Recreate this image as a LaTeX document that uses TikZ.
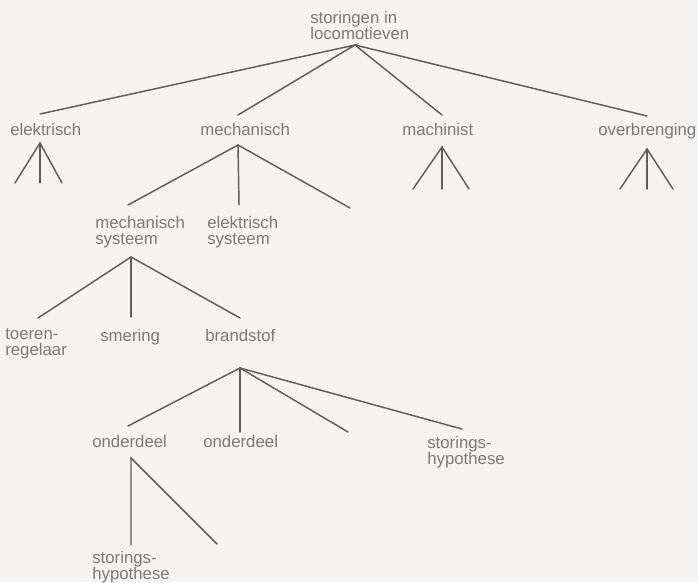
\documentclass[tikz,border=0pt]{standalone}
\usepackage{fontspec}
\setmainfont{Liberation Sans}
\definecolor{paper}{HTML}{F5F4F1}
\definecolor{ink}{HTML}{7A7A7A}
\definecolor{wire}{HTML}{5E5E5E}
\begin{document}
\begin{tikzpicture}[x=0.75pt,y=-0.75pt,
  lbl/.style={anchor=base west,inner sep=0pt,text=ink,font=\fontsize{12.6}{12}\selectfont},
  lbl2/.style={lbl,align=left,anchor=north west},
  edge/.style={draw=wire,line width=1.1pt,line cap=round}]
\fill[paper] (0,0) rectangle (698,582);
\useasboundingbox (0,0) rectangle (698,582);

% labels
\node[lbl2] (root) at (310,11) {storingen in\\locomotieven};
\node[lbl] (elek) at (10,135) {elektrisch};
\node[lbl] (mech) at (200,135) {mechanisch};
\node[lbl] (mach) at (402,135) {machinist};
\node[lbl] (over) at (598,135) {overbrenging};
\node[lbl2] (msys) at (95,216) {mechanisch\\systeem};
\node[lbl2] (esys) at (207,216) {elektrisch\\systeem};
\node[lbl2] (toer) at (5,328) {toeren-\\regelaar};
\node[lbl] (smer) at (100,341) {smering};
\node[lbl] (bran) at (205,341) {brandstof};
\node[lbl] (ondA) at (92,447) {onderdeel};
\node[lbl] (ondB) at (203,447) {onderdeel};
\node[lbl2] (hypA) at (427,436) {storings-\\hypothese};
\node[lbl2] (hypB) at (92,551) {storings-\\hypothese};

% branching points and leg ends
\coordinate (rA) at (355,45);
\coordinate (rE) at (40,114);
\coordinate (rM) at (238,115);
\coordinate (rMa) at (442,115);
\coordinate (rO) at (647,116);

\coordinate (eA) at (40,143);
\coordinate (e1) at (15,183);
\coordinate (e2) at (40,183);
\coordinate (e3) at (62,183);

\coordinate (mA) at (238,145);
\coordinate (m1) at (128,205);
\coordinate (m2) at (239,205);
\coordinate (m3) at (350,208);

\coordinate (maA) at (442,147);
\coordinate (ma1) at (413,189);
\coordinate (ma2) at (442,189);
\coordinate (ma3) at (469,189);

\coordinate (oA) at (647,149);
\coordinate (o1) at (620,189);
\coordinate (o2) at (647,189);
\coordinate (o3) at (673,189);

\coordinate (sA) at (131,257);
\coordinate (s1) at (38,318);
\coordinate (s2) at (131,317);
\coordinate (s3) at (240,318);

\coordinate (bA) at (240,368);
\coordinate (b1) at (128,426);
\coordinate (b2) at (240,432);
\coordinate (b3) at (348,432);
\coordinate (b4) at (462,429);

\coordinate (dA) at (131,458);
\coordinate (d1) at (131,545);
\coordinate (d2) at (217,544);

% tree connectors
\draw[edge] (rE) -- (rA) -- (rM);
\draw[edge] (rA) -- (rMa);
\draw[edge] (rA) -- (rO);

\draw[edge] (e1) -- (eA) -- (e3);
\draw[edge] (eA) -- (e2);

\draw[edge] (m1) -- (mA) -- (m3);
\draw[edge] (mA) -- (m2);

\draw[edge] (ma1) -- (maA) -- (ma3);
\draw[edge] (maA) -- (ma2);

\draw[edge] (o1) -- (oA) -- (o3);
\draw[edge] (oA) -- (o2);

\draw[edge] (s1) -- (sA) -- (s3);
\draw[edge] (sA) -- (s2);

\draw[edge] (b1) -- (bA) -- (b4);
\draw[edge] (bA) -- (b2);
\draw[edge] (bA) -- (b3);

\draw[edge] (d1) -- (dA) -- (d2);
\end{tikzpicture}
\end{document}
